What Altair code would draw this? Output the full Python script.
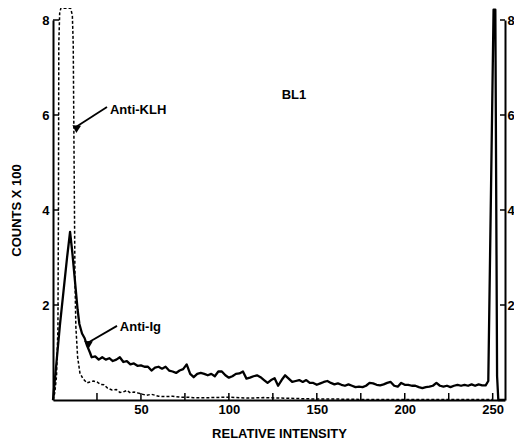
import math
import altair as alt
import pandas as pd

# ---------------- data ----------------
ig_x = [0, 2, 4, 6, 8, 9.7, 11, 13, 14, 15, 16.5, 18, 19.3, 21, 22, 24, 26, 28, 30, 32,
        34, 36, 38, 40, 42, 44, 46, 48, 50, 52, 54, 56, 58, 60, 62, 64, 66, 68, 70, 72,
        74, 76, 78, 80, 82, 84, 86, 88, 90, 92, 94, 96, 98, 100, 102, 104, 106, 108, 110, 112,
        114, 116, 118, 120, 122, 124, 126, 128, 130, 132, 134, 136, 138, 140, 142, 144, 146, 148, 150, 152,
        154, 156, 158, 160, 162, 164, 166, 168, 170, 172, 174, 176, 178, 180, 182, 184, 186, 188, 190, 192,
        194, 196, 198, 200, 202, 204, 206, 208, 210, 212, 214, 216, 218, 220, 222, 224, 226, 228, 230, 232,
        234, 236, 238, 240, 242, 244, 246, 247.5, 250.5, 251.5, 252.5, 253.2, 257]
ig_y = [0.0, 0.8, 1.6, 2.3, 3.0, 3.54, 3.1, 2.3, 1.9, 1.6, 1.4, 1.3, 1.15, 1.0, 0.9, 0.92, 0.85, 0.9, 0.85, 0.88,
        0.82, 0.85, 0.9, 0.8, 0.82, 0.75, 0.77, 0.72, 0.73, 0.7, 0.7, 0.62, 0.68, 0.7, 0.66, 0.7, 0.62, 0.6, 0.57, 0.62,
        0.65, 0.75, 0.55, 0.48, 0.55, 0.57, 0.55, 0.52, 0.55, 0.5, 0.6, 0.6, 0.52, 0.47, 0.5, 0.55, 0.56, 0.6, 0.45, 0.47,
        0.5, 0.52, 0.48, 0.42, 0.36, 0.42, 0.46, 0.3, 0.42, 0.52, 0.45, 0.38, 0.4, 0.42, 0.38, 0.42, 0.36, 0.36, 0.32, 0.35,
        0.38, 0.4, 0.36, 0.33, 0.35, 0.32, 0.3, 0.33, 0.3, 0.27, 0.28, 0.27, 0.3, 0.36, 0.35, 0.32, 0.31, 0.33, 0.36, 0.38,
        0.3, 0.28, 0.36, 0.32, 0.32, 0.3, 0.3, 0.27, 0.25, 0.27, 0.28, 0.3, 0.36, 0.3, 0.28, 0.3, 0.27, 0.3, 0.32, 0.3,
        0.32, 0.3, 0.33, 0.3, 0.33, 0.31, 0.31, 0.4, 8.22, 8.22, 0.5, 0.0, 0.0]

klh_x = [0, 1, 2, 2.8, 3.1, 3.3, 3.8, 4.5, 10, 11, 11.5, 12, 12.5, 13, 14, 15.3, 17, 19.3, 21, 23,
         25, 27, 29, 31, 33.5, 36, 38, 40, 42, 44, 46, 48, 50, 53, 56, 60, 64, 68, 72, 76,
         80, 90, 100, 110, 120, 130, 140, 150, 160, 180, 200, 250]
klh_y = [0, 0.15, 0.5, 1.5, 4.0, 7.5, 8.15, 8.25, 8.25, 8.1, 7.5, 5.0, 2.5, 1.54, 0.9, 0.57, 0.45, 0.36, 0.38, 0.4,
         0.38, 0.33, 0.32, 0.25, 0.21, 0.22, 0.16, 0.17, 0.2, 0.15, 0.17, 0.15, 0.13, 0.1, 0.12, 0.08, 0.07, 0.08, 0.06, 0.06,
         0.05, 0.05, 0.06, 0.04, 0.05, 0.04, 0.03, 0.02, 0.02, 0.01, 0.01, 0.01]

x_ticks = [25, 50, 75, 100, 125, 150, 175, 200, 225, 250]
x_labels = [50, 100, 150, 200, 250]
y_ticks = [2, 4, 6, 8]

note_text = ["Anti-KLH", "Anti-Ig"]
note_x = [32.4, 38.0]
note_y = [6.1, 1.54]
arrow_x = [30.7, 36.4]
arrow_y = [6.17, 1.56]
arrow_x2 = [12.8, 19.6]
arrow_y2 = [5.74, 1.2]

panel_text = ["BL1"]
panel_x = [137]
panel_y = [6.42]

x_title = "RELATIVE INTENSITY"
y_title = "COUNTS X 100"

# ---------------- layout ----------------
W, H = 452, 380
XMAX, YMAX = 257, 8
FONT = "Liberation Sans Narrow, Liberation Sans, Arial, sans-serif"
px_x = W / XMAX
px_y = H / YMAX

ig = pd.DataFrame({"x": ig_x, "y": ig_y})
klh = pd.DataFrame({"x": klh_x, "y": klh_y})
xt = pd.DataFrame({"x": x_ticks})
yt = pd.DataFrame({"y": y_ticks})
notes = pd.DataFrame({"t": note_text, "x": note_x, "y": note_y})
angles = [
    (math.degrees(math.atan2((x2 - x1) * px_x, (y1 - y2) * px_y))) % 360
    for x1, y1, x2, y2 in zip(arrow_x, arrow_y, arrow_x2, arrow_y2)
]
arrows = pd.DataFrame({"x": arrow_x, "y": arrow_y, "x2": arrow_x2, "y2": arrow_y2, "a": angles})
panel = pd.DataFrame({"t": panel_text, "x": panel_x, "y": panel_y})

xs = alt.Scale(domain=[0, XMAX], nice=False, zero=False)
ys = alt.Scale(domain=[0, YMAX], nice=False, zero=False)

ax_common = dict(grid=False, ticks=False, domainColor="black", domainWidth=2,
                 labelFont=FONT, labelFontWeight="bold", labelFontSize=13, labelColor="black",
                 titleFont=FONT, titleFontWeight="bold", titleFontSize=13, titleColor="black")

x_axis = alt.Axis(values=x_labels, orient="bottom", labelPadding=3, title=x_title,
                  titlePadding=11, **ax_common)
y_axis_left = alt.Axis(values=y_ticks, orient="left", labelPadding=4, title=y_title,
                       titlePadding=18, **ax_common)
y_axis_right = alt.Axis(values=y_ticks, orient="right", labelPadding=2, title=None, **ax_common)

ig_line = alt.Chart(ig).mark_line(color="black", strokeWidth=2.3, strokeJoin="round").encode(
    x=alt.X("x:Q", scale=xs, axis=x_axis),
    y=alt.Y("y:Q", scale=ys, axis=y_axis_left),
    order="x:Q",
)

klh_line = alt.Chart(klh).mark_line(color="black", strokeWidth=1.5, strokeDash=[3, 2]).encode(
    x=alt.X("x:Q", scale=xs, axis=None),
    y=alt.Y("y:Q", scale=ys, axis=y_axis_right),
    order="x:Q",
)

xtick_marks = alt.Chart(xt).mark_rule(color="black", strokeWidth=1.5).encode(
    x=alt.X("x:Q", scale=xs, axis=None),
    y=alt.value(H), y2=alt.value(H - 7),
)
ytick_left = alt.Chart(yt).mark_rule(color="black", strokeWidth=1.5).encode(
    y=alt.Y("y:Q", scale=ys, axis=None),
    x=alt.value(0), x2=alt.value(6),
)
ytick_right = alt.Chart(yt).mark_rule(color="black", strokeWidth=1.5).encode(
    y=alt.Y("y:Q", scale=ys, axis=None),
    x=alt.value(W), x2=alt.value(W - 5),
)

note_marks = alt.Chart(notes).mark_text(align="left", baseline="middle", font=FONT,
                                        fontWeight="bold", fontSize=13, color="black").encode(
    x=alt.X("x:Q", scale=xs, axis=None),
    y=alt.Y("y:Q", scale=ys, axis=None),
    text="t:N",
)
arrow_lines = alt.Chart(arrows).mark_rule(color="black", strokeWidth=1.8).encode(
    x=alt.X("x:Q", scale=xs, axis=None),
    y=alt.Y("y:Q", scale=ys, axis=None),
    x2="x2:Q", y2="y2:Q",
)
arrow_heads = alt.Chart(arrows).mark_point(shape="triangle-up", filled=True, color="black",
                                           size=75, opacity=1).encode(
    x=alt.X("x2:Q", scale=xs, axis=None),
    y=alt.Y("y2:Q", scale=ys, axis=None),
    angle=alt.Angle("a:Q", scale=None),
)
panel_mark = alt.Chart(panel).mark_text(align="center", baseline="middle", font=FONT,
                                        fontWeight="bold", fontSize=13, color="black").encode(
    x=alt.X("x:Q", scale=xs, axis=None),
    y=alt.Y("y:Q", scale=ys, axis=None),
    text="t:N",
)

chart = alt.layer(
    ig_line, klh_line, xtick_marks, ytick_left, ytick_right,
    arrow_lines, arrow_heads, note_marks, panel_mark,
).resolve_axis(x="independent", y="independent").properties(
    width=W, height=H,
    autosize=alt.AutoSizeParams(type="none"),
    padding={"left": 45, "top": 12, "right": 9, "bottom": 39},
).configure(background="white").configure_view(stroke=None, strokeWidth=0)

chart.save("out.html", embed_options={"renderer": "svg", "actions": False})
